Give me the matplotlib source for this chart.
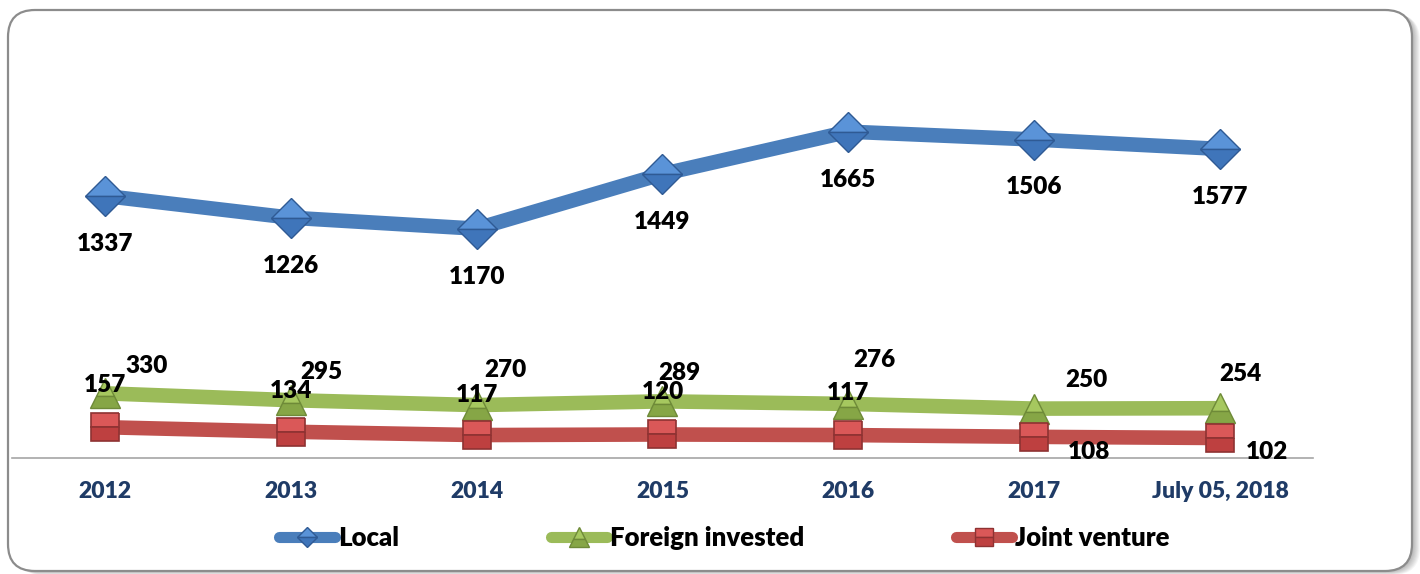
import matplotlib
matplotlib.use('Agg')
import matplotlib.pyplot as plt
from matplotlib.lines import Line2D
from matplotlib.patches import FancyBboxPatch
from matplotlib.transforms import IdentityTransform
from matplotlib.font_manager import FontProperties

categories = ['2012', '2013', '2014', '2015', '2016', '2017', 'July 05, 2018']

# values as they sit on the chart (the 2017 local point is drawn higher than its label)
local = [1337, 1226, 1170, 1449, 1665, 1625, 1577]
foreign = [330, 295, 270, 289, 276, 252, 254]
joint = [157, 134, 117, 120, 117, 108, 102]

local_labels = ['1337', '1226', '1170', '1449', '1665', '1506', '1577']
foreign_labels = ['330', '295', '270', '289', '276', '250', '254']
joint_labels = ['157', '134', '117', '120', '117', '108', '102']

# label offsets in pixels (layout only)
foreign_dx = [42, 31, 29, 17, 26, 52, 20]
foreign_dy = [27, 28, 35, 28, 44, 29, 34]
joint_dx = [0, 0, 0, 0, 0, 55, 47]
joint_dy = [42, 41, 40, 42, 42, -15, -14]

blue = '#4A7EBB'
green = '#9BBB59'
red = '#C0504D'
navy = '#1F3B66'

fp_data = FontProperties(family='Lato', weight='heavy', size=17.5)
fp_tick = FontProperties(family='Lato', weight='heavy', size=16.5)
fp_leg = FontProperties(family='Lato', weight='heavy', size=18.5)

W, H = 1420, 574
fig = plt.figure(figsize=(W / 100, H / 100), dpi=100)

# rounded frame with a soft shadow (pixel coordinates)
for k in range(8, 0, -1):
    sh = FancyBboxPatch((8 + k, 3 - k * 0.5), 1404, 561,
                        boxstyle='round,pad=0,rounding_size=27',
                        transform=IdentityTransform(), facecolor='black',
                        edgecolor='none', alpha=0.04, zorder=-3)
    fig.add_artist(sh)
frame = FancyBboxPatch((8, 3), 1404, 561, boxstyle='round,pad=0,rounding_size=27',
                       transform=IdentityTransform(), facecolor='white',
                       edgecolor='#8C8C8C', linewidth=1.6, zorder=-2)
fig.add_artist(frame)

ymax = 1800
ax = fig.add_axes([12 / W, 116 / H, 1301 / W, ymax * 0.196 / H])
ax.set_xlim(-0.5, 6.5)
ax.set_ylim(0, ymax)
ax.patch.set_visible(False)
for s in ['top', 'right', 'left']:
    ax.spines[s].set_visible(False)
ax.spines['bottom'].set_color('#A6A6A6')
ax.spines['bottom'].set_linewidth(1.2)
ax.set_yticks([])

x = list(range(len(categories)))
ax.set_xticks(x, categories)
ax.tick_params(axis='x', length=0, pad=24, labelcolor=navy)
for lab in ax.get_xticklabels():
    lab.set_fontproperties(fp_tick)
    lab.set_va('center')

ax.plot(x, joint, color=red, lw=10.5, marker='s', ms=20, fillstyle='top',
        mfc='#DA5858', mfcalt='#BE4040', mec='#8E3232', mew=1.2,
        solid_capstyle='butt', zorder=3, clip_on=False)
ax.plot(x, foreign, color=green, lw=10.5, marker='^', ms=21, fillstyle='top',
        mfc='#A6C85F', mfcalt='#86A646', mec='#6E8A38', mew=1.0,
        solid_capstyle='butt', zorder=2, clip_on=False)
ax.plot(x, local, color=blue, lw=10.5, marker='D', ms=20, fillstyle='top',
        mfc='#5A93D8', mfcalt='#3F75BA', mec='#2F5A94', mew=1.0,
        solid_capstyle='butt', zorder=4, clip_on=False)

lab_kw = dict(textcoords='offset pixels', ha='center', va='center',
              fontproperties=fp_data, color='black', zorder=6,
              annotation_clip=False)
for i in x:
    ax.annotate(local_labels[i], (i, local[i]), xytext=(0, -48), **lab_kw)
    ax.annotate(foreign_labels[i], (i, foreign[i]),
                xytext=(foreign_dx[i], foreign_dy[i]), **lab_kw)
    ax.annotate(joint_labels[i], (i, joint[i]),
                xytext=(joint_dx[i], joint_dy[i]), **lab_kw)

handles = [
    Line2D([], [], color=blue, lw=8, marker='D', ms=10, fillstyle='top',
           mfc='#5A93D8', mfcalt='#3F75BA', mec='#2F5A94', solid_capstyle='round'),
    Line2D([], [], color=green, lw=8, marker='^', ms=14, fillstyle='top',
           mfc='#A6C85F', mfcalt='#86A646', mec='#6E8A38', solid_capstyle='round'),
    Line2D([], [], color=red, lw=8, marker='s', ms=13, fillstyle='top',
           mfc='#DA5858', mfcalt='#BE4040', mec='#8E3232', solid_capstyle='round'),
]
fig.legend(handles, ['Local', 'Foreign invested', 'Joint venture'],
           loc='center', bbox_to_anchor=(724 / W, 1 - 538 / H), ncol=3,
           frameon=False, numpoints=1, handlelength=2.2, handletextpad=0.1,
           columnspacing=5.9, prop=fp_leg)

fig.savefig('out.png', dpi=100)
